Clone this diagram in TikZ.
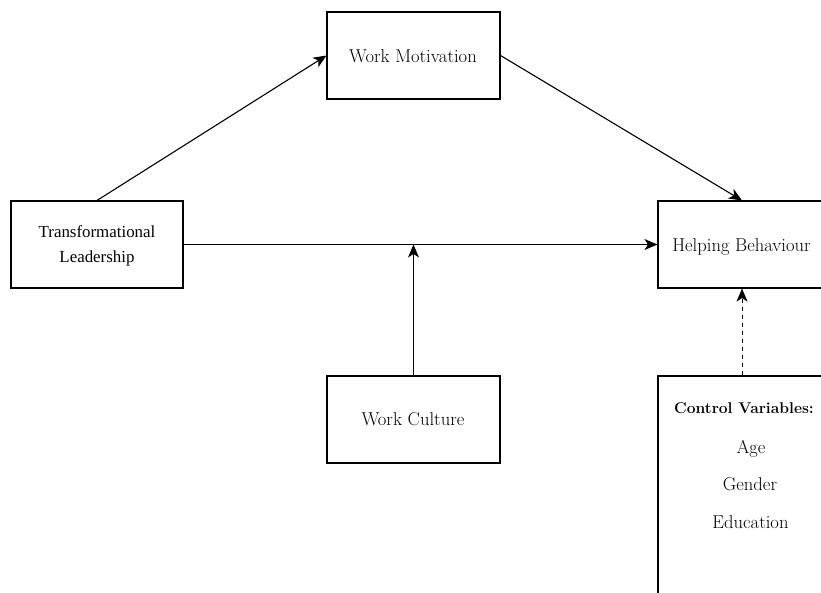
\documentclass[tikz,border=0pt]{standalone}
\usepackage{fontspec}
\newfontfamily\tnr{Liberation Serif}
\usetikzlibrary{arrows.meta}
\tikzset{
  box/.style={draw, line width=1.1pt, inner sep=0pt, minimum width=#1, minimum height=87},
  box/.default=173,
  lbl/.style={inner sep=0pt, font=\fontsize{18.6}{22}\selectfont},
  arr/.style={line width=1.1pt, -{Stealth[length=13pt,width=11pt,inset=3.5pt]}},
}
\begin{document}
\begin{tikzpicture}[x=1pt,y=-1pt]
\useasboundingbox (0,0) rectangle (821,592);
\node[box=172] (TL) at (97,244.5) {};
\node[inner sep=0pt, align=center, font=\tnr\fontsize{16.9}{25}\selectfont] (TLt) at (97,246) {Transformational\\Leadership};
\node[box] (WM) at (413.5,55.5) {};
\node[lbl, anchor=base] (WMt) at (413,62) {Work Motivation};
\node[box=168] (HB) at (742,244.5) {};
\node[lbl, anchor=base] (HBt) at (741.5,251) {Helping Behaviour};
\node[box] (WC) at (413.5,419.5) {};
\node[lbl, anchor=base] (WCt) at (413,425) {Work Culture};
\node[box=168, minimum height=250] (CV) at (742,501) {};
\node[inner sep=0pt, anchor=base, font=\bfseries\fontsize{15.6}{18}\selectfont] (CVt) at (744,413) {Control Variables:};
\node[lbl, anchor=base] (age) at (751,453) {Age};
\node[lbl, anchor=base] (gen) at (750,490) {Gender};
\node[lbl, anchor=base] (edu) at (750.5,528) {Education};
\coordinate (J) at (WC.north |- TL.east);
\draw[arr] (TL.north) -- (WM.west);
\draw[arr] (WM.east) -- (HB.north);
\draw[arr] (TL.east) -- (HB.west);
\draw[arr] (WC.north) -- (J);
\draw[arr, line width=0.9pt, dash pattern=on 4pt off 4pt] (CV.north) -- (HB.south);
\end{tikzpicture}
\end{document}
